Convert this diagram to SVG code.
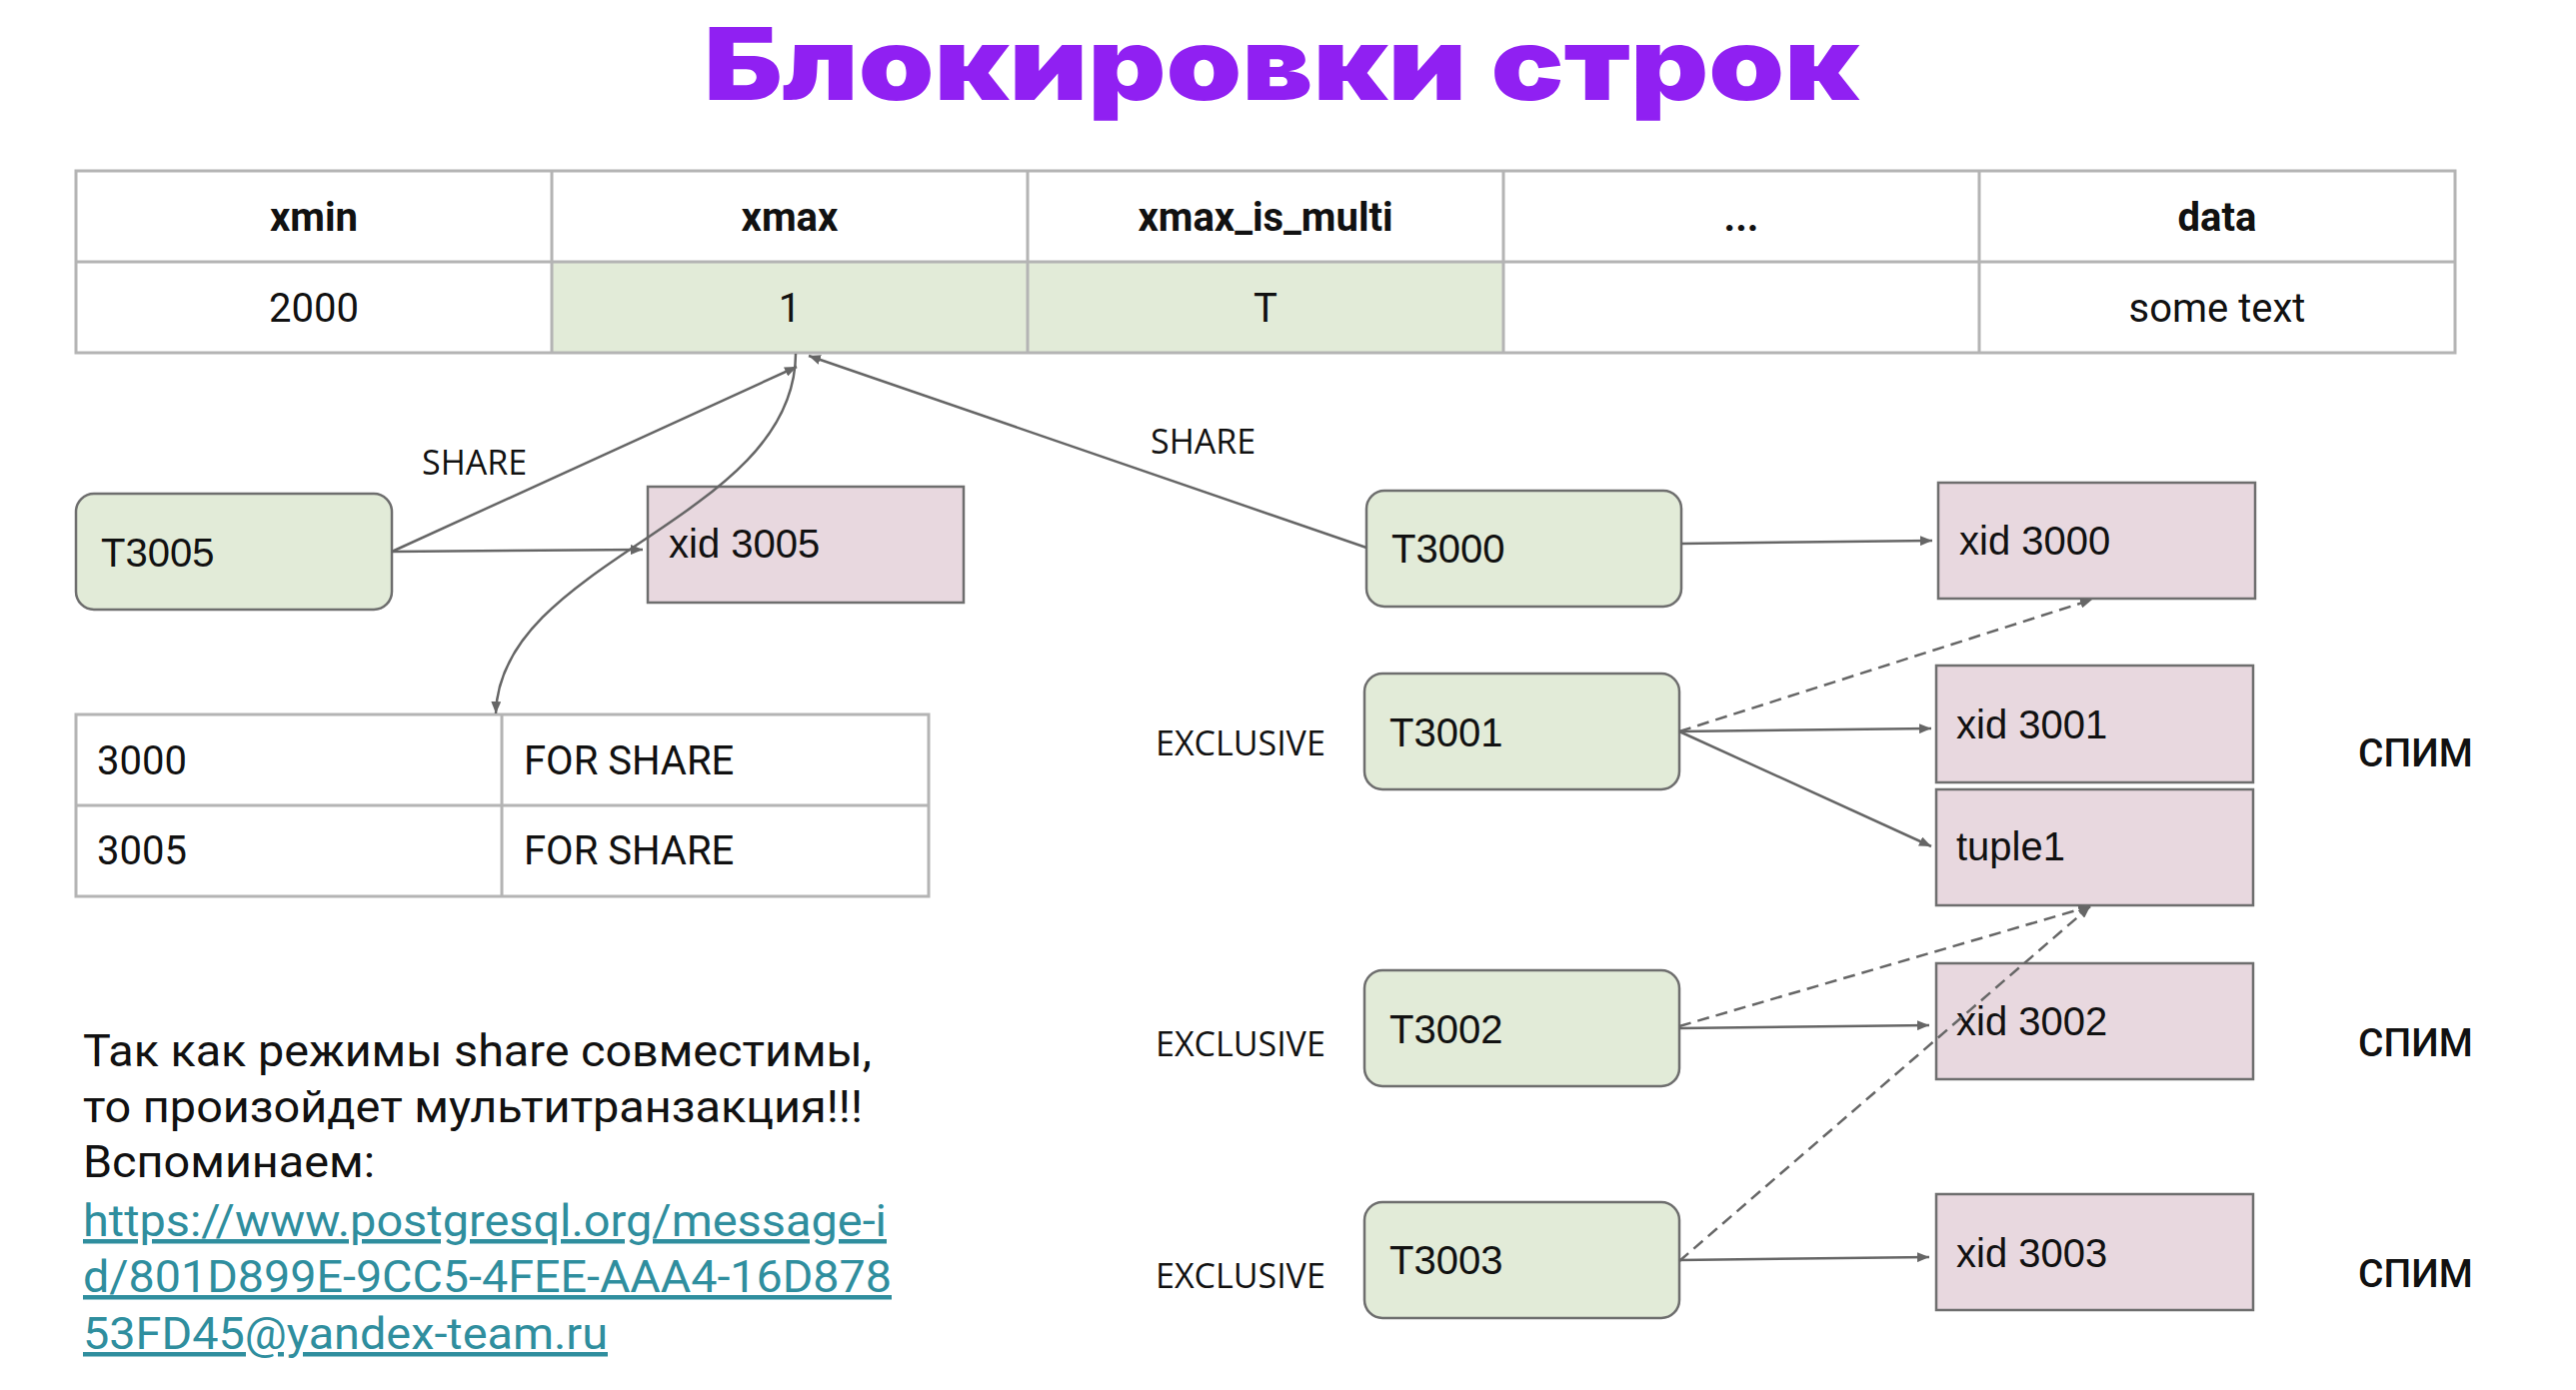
<svg xmlns="http://www.w3.org/2000/svg" width="2577" height="1391" viewBox="0 0 2577 1391">
<style>
.title{font-family:Inter,"Noto Sans",sans-serif;font-weight:900;font-size:100px;fill:#9020f2}
.grid{fill:none;stroke:#b4b4b4;stroke-width:3}
.th{font-family:Roboto,"Liberation Sans",sans-serif;font-weight:700;font-size:40px;fill:#111;text-anchor:middle}
.td{font-family:Roboto,"Liberation Sans",sans-serif;font-size:40px;fill:#111}
.tdc{text-anchor:middle}
.green{fill:#e2ebd8}
.tnode{fill:#e2ebd8;stroke:#6e6e6e;stroke-width:2.5}
.xnode{fill:#e8d8df;stroke:#6e6e6e;stroke-width:2.5}
.nl{font-family:"Liberation Sans",Arial,sans-serif;font-size:40px;fill:#111}
.lab{font-family:"Open Sans","DejaVu Sans",sans-serif;font-size:34px;fill:#111}
.spim{font-family:Roboto,"Liberation Sans",sans-serif;font-weight:500;font-size:39px;fill:#111}
.para{font-family:Roboto,"Liberation Sans",sans-serif;font-size:45px;fill:#111}
.link{fill:#2f8e9e;text-decoration:underline}
.c{fill:none;stroke:#666;stroke-width:2.5}
.d{stroke-dasharray:12 7}
</style>
<defs>
<marker id="ah" viewBox="0 0 12 10" refX="12" refY="5" markerWidth="12" markerHeight="10" markerUnits="userSpaceOnUse" orient="auto">
<path d="M0,0 L12,5 L0,10 z" fill="#666"/>
</marker>
</defs>
<rect width="2577" height="1391" fill="#fff"/>
<text class="title" x="704" y="100" textLength="1156" lengthAdjust="spacingAndGlyphs">Блокировки строк</text>

<g id="tuple-table">
<rect class="green" x="552" y="262" width="952" height="91"/>
<rect class="grid" x="76" y="171" width="2380" height="182"/>
<path class="grid" d="M76,262 H2456 M552,171 V353 M1028,171 V353 M1504,171 V353 M1980,171 V353"/>
<text class="th" x="314" y="231">xmin</text>
<text class="th" x="790" y="231">xmax</text>
<text class="th" x="1266" y="231">xmax_is_multi</text>
<text class="th" x="1742" y="231">...</text>
<text class="th" x="2218" y="231">data</text>
<text class="td tdc" x="314" y="322">2000</text>
<text class="td tdc" x="790" y="322">1</text>
<text class="td tdc" x="1266" y="322">T</text>
<text class="td tdc" x="2218" y="322">some text</text>
</g>

<g id="lock-table">
<rect class="grid" x="76" y="715" width="853" height="182"/>
<path class="grid" d="M76,806 H929 M502,715 V897"/>
<text class="td" x="97" y="775">3000</text>
<text class="td" x="524" y="775">FOR SHARE</text>
<text class="td" x="97" y="865">3005</text>
<text class="td" x="524" y="865">FOR SHARE</text>
</g>

<g id="T3005"><rect class="tnode" x="76" y="494" width="316" height="116" rx="18"/><text class="nl" x="101" y="567">T3005</text></g>
<g id="xid3005"><rect class="xnode" x="648" y="487" width="316" height="116"/><text class="nl" x="669" y="558">xid 3005</text></g>
<g id="T3000"><rect class="tnode" x="1367" y="491" width="315" height="116" rx="18"/><text class="nl" x="1392" y="563">T3000</text></g>
<g id="xid3000"><rect class="xnode" x="1939" y="483" width="317" height="116"/><text class="nl" x="1960" y="555">xid 3000</text></g>
<g id="T3001"><rect class="tnode" x="1365" y="674" width="315" height="116" rx="18"/><text class="nl" x="1390" y="747">T3001</text></g>
<g id="xid3001"><rect class="xnode" x="1937" y="666" width="317" height="117"/><text class="nl" x="1957" y="739">xid 3001</text></g>
<g id="tuple1"><rect class="xnode" x="1937" y="790" width="317" height="116"/><text class="nl" x="1957" y="861">tuple1</text></g>
<g id="T3002"><rect class="tnode" x="1365" y="971" width="315" height="116" rx="18"/><text class="nl" x="1390" y="1044">T3002</text></g>
<g id="xid3002"><rect class="xnode" x="1937" y="964" width="317" height="116"/><text class="nl" x="1957" y="1036">xid 3002</text></g>
<g id="T3003"><rect class="tnode" x="1365" y="1203" width="315" height="116" rx="18"/><text class="nl" x="1390" y="1275">T3003</text></g>
<g id="xid3003"><rect class="xnode" x="1937" y="1195" width="317" height="116"/><text class="nl" x="1957" y="1268">xid 3003</text></g>

<g id="connectors">
<path class="c" marker-end="url(#ah)" d="M392,552 L797,367"/>
<path class="c" marker-end="url(#ah)" d="M392,552 L643,550"/>
<path class="c" marker-end="url(#ah)" d="M796,354 C795,520 500,560 496,714"/>
<path class="c" marker-end="url(#ah)" d="M1367,548 L809,356"/>
<path class="c" marker-end="url(#ah)" d="M1682,544 L1933,541"/>
<path class="c" marker-end="url(#ah)" d="M1680,732 L1932,729"/>
<path class="c" marker-end="url(#ah)" d="M1680,732 L1932,847"/>
<path class="c d" marker-end="url(#ah)" d="M1680,732 L2093,600"/>
<path class="c" marker-end="url(#ah)" d="M1680,1029 L1930,1026"/>
<path class="c d" marker-end="url(#ah)" d="M1680,1027 L2091,907"/>
<path class="c" marker-end="url(#ah)" d="M1680,1261 L1930,1258"/>
<path class="c d" marker-end="url(#ah)" d="M1680,1262 L2091,907"/>
</g>

<g id="labels">
<text class="lab" x="422" y="475">SHARE</text>
<text class="lab" x="1151" y="454">SHARE</text>
<text class="lab" x="1156" y="756">EXCLUSIVE</text>
<text class="lab" x="1156" y="1057">EXCLUSIVE</text>
<text class="lab" x="1156" y="1289">EXCLUSIVE</text>
<text class="spim" x="2359" y="767">СПИМ</text>
<text class="spim" x="2359" y="1057">СПИМ</text>
<text class="spim" x="2359" y="1288">СПИМ</text>
</g>

<g id="note">
<text class="para" x="83" y="1067" textLength="789" lengthAdjust="spacingAndGlyphs">Так как режимы share совместимы,</text>
<text class="para" x="83" y="1123" textLength="780" lengthAdjust="spacingAndGlyphs">то произойдет мультитранзакция!!!</text>
<text class="para" x="83" y="1178" textLength="292" lengthAdjust="spacingAndGlyphs">Вспоминаем:</text>
<text class="para link" x="83" y="1237" textLength="804" lengthAdjust="spacingAndGlyphs">https://www.postgresql.org/message-i</text>
<text class="para link" x="83" y="1293" textLength="809" lengthAdjust="spacingAndGlyphs">d/801D899E-9CC5-4FEE-AAA4-16D878</text>
<text class="para link" x="83" y="1350" textLength="525" lengthAdjust="spacingAndGlyphs">53FD45@yandex-team.ru</text>
</g>
</svg>
